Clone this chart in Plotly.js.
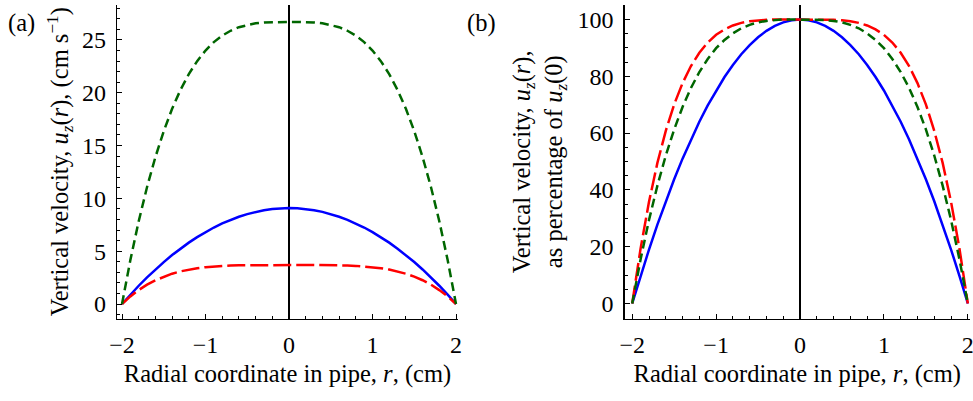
<!DOCTYPE html>
<html>
<head>
<meta charset="utf-8">
<script src="https://cdn.plot.ly/plotly-3.0.1.min.js"></script>
<style>
html,body{margin:0;padding:0;background:#fff;}
#chart{width:973px;height:401px;}
#chart .xtick text, #chart .ytick text, #chart .x2tick text, #chart .y2tick text{
  font-family:"Liberation Serif","Times New Roman",serif !important; font-size:24px !important; fill:#000 !important;}
</style>
</head>
<body>
<div id="chart"></div>
<script>
// Radial coordinate (cm)
const r = [-2,-1.9,-1.8,-1.7,-1.6,-1.5,-1.4,-1.3,-1.2,-1.1,-1,-0.9,-0.8,-0.7,-0.6,-0.5,-0.4,-0.3,-0.2,-0.1,0,
           0.1,0.2,0.3,0.4,0.5,0.6,0.7,0.8,0.9,1,1.1,1.2,1.3,1.4,1.5,1.6,1.7,1.8,1.9,2];

// Panel (a): vertical velocity u_z(r), cm/s
const blueA = [0,0.89,1.73,2.52,3.27,3.97,4.63,5.24,5.81,6.33,6.81,7.24,7.63,7.97,8.26,8.51,8.72,8.88,8.99,9.06,9.08,
               9.06,8.99,8.88,8.72,8.51,8.26,7.97,7.63,7.24,6.81,6.33,5.81,5.24,4.63,3.97,3.27,2.52,1.73,0.89,0];
const greenA = [0,4.16,7.84,11.08,13.91,16.36,18.48,20.26,21.76,22.99,23.99,24.79,25.4,25.86,26.2,26.42,26.57,26.65,26.69,26.7,26.7,
                26.7,26.69,26.65,26.57,26.42,26.2,25.86,25.4,24.79,23.99,22.99,21.76,20.26,18.48,16.36,13.91,11.08,7.84,4.16,0];
const redA = [0,0.72,1.32,1.83,2.25,2.59,2.87,3.09,3.26,3.39,3.49,3.56,3.61,3.65,3.67,3.68,3.69,3.69,3.69,3.69,3.69,
              3.69,3.69,3.69,3.69,3.68,3.67,3.65,3.61,3.56,3.49,3.39,3.26,3.09,2.87,2.59,2.25,1.83,1.32,0.72,0];

// Panel (b): as percentage of u_z(0)
const bluePct = [0,9.75,19,27.75,36,43.75,51,57.75,64,69.75,75,79.75,84,87.75,91,93.75,96,97.75,99,99.75,100,
                 99.75,99,97.75,96,93.75,91,87.75,84,79.75,75,69.75,64,57.75,51,43.75,36,27.75,19,9.75,0];
const greenPct = [0,15.6,29.4,41.5,52.1,61.3,69.2,75.9,81.5,86.1,89.9,92.8,95.1,96.9,98.1,99.0,99.5,99.8,100,100,100,
                  100,100,99.8,99.5,99.0,98.1,96.9,95.1,92.8,89.9,86.1,81.5,75.9,69.2,61.3,52.1,41.5,29.4,15.6,0];
const redPct = [0,19.4,35.8,49.5,60.8,70.1,77.6,83.6,88.3,91.9,94.6,96.5,97.9,98.8,99.4,99.7,99.9,100,100,100,100,
                100,100,100,99.9,99.7,99.4,98.8,97.9,96.5,94.6,91.9,88.3,83.6,77.6,70.1,60.8,49.5,35.8,19.4,0];

const xTicks = [-2,-1,0,1,2];
const yTicksA = [0,5,10,15,20,25];
const yTicksB = [0,20,40,60,80,100];

const BLUE = '#0000ff', GREEN = '#006600', RED = '#ff0000';
const W = 2.5;
function tr(y, color, dash, xa, ya) {
  return {x: r, y: y, type: 'scatter', mode: 'lines', xaxis: xa, yaxis: ya,
          line: {color: color, width: W, dash: dash}, hoverinfo: 'skip'};
}
const data = [
  tr(blueA, BLUE, 'solid', 'x', 'y'),
  tr(redA, RED, '18px,5px', 'x', 'y'),
  tr(greenA, GREEN, '9px,5px', 'x', 'y'),
  tr(bluePct, BLUE, 'solid', 'x2', 'y2'),
  tr(redPct, RED, '18px,5px', 'x2', 'y2'),
  tr(greenPct, GREEN, '9px,5px', 'x2', 'y2')
];

const FONT = '"Liberation Serif", "Times New Roman", serif';
const FS = 24;
const TS = 24.5;
const H = 401, WID = 973;
const yDom = [(H - 318.5) / H, (H - 5) / H];

function xAxis(dom, rng, anchor) {
  return {
    domain: dom, range: rng, anchor: anchor,
    tickvals: xTicks, ticks: 'inside', ticklen: 5, tickwidth: 1, tickcolor: 'black',
    showline: true, linecolor: 'black', linewidth: 1.2, showgrid: false,
    zeroline: true, zerolinecolor: 'black', zerolinewidth: 1.6,
    minor: {dtick: 0.2, tick0: 0, ticks: 'inside', ticklen: 3, tickwidth: 1, tickcolor: 'black', showgrid: false},
    ticklabelstandoff: 4, ticklabeloverflow: 'allow',
    tickfont: {family: FONT, size: FS, color: 'black'},
    title: {text: 'Radial coordinate in pipe, <i>r</i>, (cm)', font: {family: FONT, size: TS, color: 'black'}, standoff: 8},
    fixedrange: true
  };
}
function yAxis(rng, ticks, minorStep, anchor, title, standoff) {
  return {
    domain: yDom, range: rng, anchor: anchor,
    tickvals: ticks, ticks: 'inside', ticklen: 5, tickwidth: 1, tickcolor: 'black',
    showline: true, linecolor: 'black', linewidth: 1.2, showgrid: false, zeroline: false,
    minor: {dtick: minorStep, tick0: 0, ticks: 'inside', ticklen: 3, tickwidth: 1, tickcolor: 'black', showgrid: false},
    ticklabelstandoff: 5, ticklabeloverflow: 'allow',
    tickfont: {family: FONT, size: FS, color: 'black'},
    title: {text: title, font: {family: FONT, size: TS, color: 'black'}, standoff: standoff},
    fixedrange: true
  };
}

const layout = {
  width: WID, height: H,
  margin: {l: 0, r: 0, t: 0, b: 0},
  paper_bgcolor: 'white', plot_bgcolor: 'white',
  showlegend: false,
  font: {family: FONT, size: FS, color: 'black'},
  xaxis: xAxis([117 / WID, 458 / WID], [-2.06, 2.024], 'y'),
  yaxis: yAxis([-1.37, 28.3], yTicksA, 1, 'x',
               'Vertical velocity, <i>u</i><sub><i>z</i></sub>(<i>r</i>), (cm s<sup>\u22121</sup>)', 6),
  xaxis2: xAxis([624.5 / WID, 970 / WID], [-2.092, 2.026], 'y2'),
  yaxis2: yAxis([-5.28, 105.1], yTicksB, 5, 'x2',
               'Vertical velocity, <i>u</i><sub><i>z</i></sub>(<i>r</i>),<br>as percentage of <i>u</i><sub><i>z</i></sub>(0)', 8),
  annotations: [
    {text: '(a)', xref: 'paper', yref: 'paper', x: 6 / WID, y: 1 - 23 / H, xanchor: 'left', yanchor: 'middle',
     showarrow: false, font: {family: FONT, size: TS, color: 'black'}},
    {text: '(b)', xref: 'paper', yref: 'paper', x: 465 / WID, y: 1 - 23 / H, xanchor: 'left', yanchor: 'middle',
     showarrow: false, font: {family: FONT, size: TS, color: 'black'}}
  ]
};

Plotly.newPlot('chart', data, layout, {displayModeBar: false, staticPlot: true});
</script>
</body>
</html>
